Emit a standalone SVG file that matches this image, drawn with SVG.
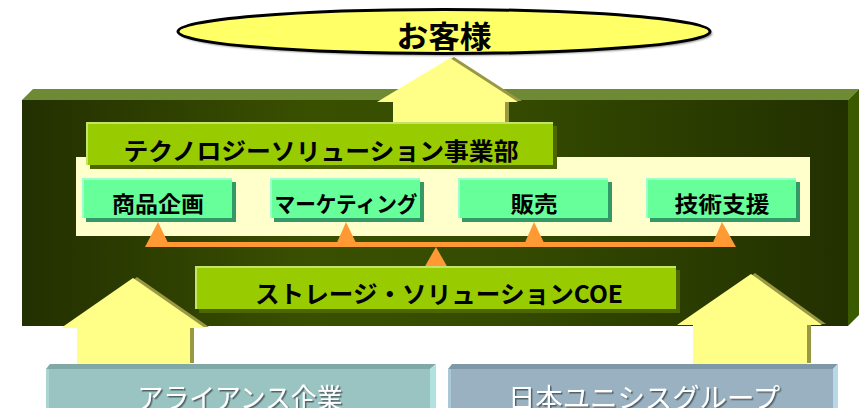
<svg xmlns="http://www.w3.org/2000/svg" width="859" height="408" viewBox="0 0 859 408">
<defs>
<linearGradient id="front" x1="0" y1="0" x2="1" y2="0">
<stop offset="0" stop-color="#233000"/>
<stop offset="0.35" stop-color="#3a5000"/>
<stop offset="0.6" stop-color="#344a00"/>
<stop offset="1" stop-color="#223000"/>
</linearGradient>
<filter id="blur" x="-5%" y="-20%" width="110%" height="140%"><feGaussianBlur stdDeviation="1.2"/></filter>
<filter id="tshadow" x="-5%" y="-20%" width="110%" height="140%"><feDropShadow dx="1.5" dy="1.5" stdDeviation="0.6" flood-color="#4a5a60" flood-opacity="0.9"/></filter>
</defs>
<style>
.jp{font-family:"Noto Sans CJK JP","Noto Sans",sans-serif;font-weight:bold;fill:#000;text-anchor:middle}
.wt{font-family:"Noto Sans CJK JP","Noto Sans",sans-serif;fill:#fff;text-anchor:middle;filter:url(#tshadow)}
.arrow{fill:#ffff88}
.ashadow{fill:#999944}
.gbody{fill:#66ff99}
.ghi{fill:#99ffcc}
.gsh{fill:#339966}
.lbody{fill:#99cc00}
.lhi{fill:#c4e36a}
.lsh{fill:#4d6600}
.orange{fill:#ff9933}
</style>
<rect width="859" height="408" fill="#fff"/>

<g id="customer">
<ellipse cx="446" cy="33.5" rx="266" ry="22" fill="#777" filter="url(#blur)"/>
<ellipse cx="444" cy="31.5" rx="266" ry="22" fill="#ffff66" stroke="#000" stroke-width="3"/>
<text class="jp" x="444" y="47" font-size="30" textLength="95" lengthAdjust="spacingAndGlyphs">お客様</text>
</g>

<g id="org-box">
<polygon points="22,100 33,89 859,89 848,100" fill="#6e8a35"/>
<polygon points="848,100 859,89 859,315 848,326" fill="#3b5a00"/>
<rect x="22" y="100" width="826" height="226" fill="url(#front)"/>
</g>

<g id="arrow-top">
<polygon class="ashadow" points="454,57 522,101 509,101 509,123 397,123 397,101 381,101"/>
<polygon class="arrow" points="450,58 518,102 505,102 505,124 393,124 393,102 377,102"/>
</g>

<g id="arrow-left">
<polygon class="ashadow" points="137,277 209,327 194,327 194,363 81,363 81,327 65,327"/>
<polygon class="arrow" points="133,278 205,328 190,328 190,364 77,364 77,328 61,328"/>
</g>

<g id="arrow-right">
<polygon class="ashadow" points="755,273 826,324 811,324 811,363 697,363 697,324 681,324"/>
<polygon class="arrow" points="751,274 822,325 807,325 807,364 693,364 693,325 677,325"/>
</g>

<g id="inner-panel">
<rect x="76" y="157" width="734" height="79" fill="#ffffcc"/>
</g>

<g id="tech-division">
<rect class="lsh" x="90" y="126" width="467" height="43"/>
<rect class="lhi" x="86" y="122" width="467" height="43"/>
<rect class="lbody" x="88" y="124" width="465" height="41"/>
<text class="jp" x="321" y="160" font-size="24" textLength="395" lengthAdjust="spacingAndGlyphs">テクノロジーソリューション事業部</text>
</g>

<g id="planning">
<rect class="gsh" x="86" y="182" width="150" height="40"/>
<rect class="ghi" x="82" y="178" width="150" height="40"/>
<rect class="gbody" x="84" y="180" width="148" height="38"/>
<text class="jp" x="158" y="212" font-size="22" textLength="92" lengthAdjust="spacingAndGlyphs">商品企画</text>
</g>

<g id="marketing">
<rect class="gsh" x="274" y="182" width="150" height="40"/>
<rect class="ghi" x="270" y="178" width="150" height="40"/>
<rect class="gbody" x="272" y="180" width="148" height="38"/>
<text class="jp" x="346" y="212" font-size="22" textLength="143" lengthAdjust="spacingAndGlyphs">マーケティング</text>
</g>

<g id="sales">
<rect class="gsh" x="462" y="182" width="150" height="40"/>
<rect class="ghi" x="458" y="178" width="150" height="40"/>
<rect class="gbody" x="460" y="180" width="148" height="38"/>
<text class="jp" x="534" y="212" font-size="22" textLength="47" lengthAdjust="spacingAndGlyphs">販売</text>
</g>

<g id="support">
<rect class="gsh" x="650" y="182" width="150" height="40"/>
<rect class="ghi" x="646" y="178" width="150" height="40"/>
<rect class="gbody" x="648" y="180" width="148" height="38"/>
<text class="jp" x="722" y="212" font-size="22" textLength="95" lengthAdjust="spacingAndGlyphs">技術支援</text>
</g>

<g id="connectors">
<rect class="orange" x="156" y="242" width="569" height="5"/>
<polygon class="orange" points="158,222 170,247 145,247"/>
<polygon class="orange" points="346,222 358,247 335,247"/>
<polygon class="orange" points="534,222 546,247 523,247"/>
<polygon class="orange" points="722,222 736,247 711,247"/>
<polygon class="orange" points="436,247 448,268 424,268"/>
</g>

<g id="coe">
<rect class="lsh" x="199" y="270" width="481" height="43"/>
<rect class="lhi" x="195" y="266" width="481" height="43"/>
<rect class="lbody" x="197" y="268" width="479" height="41"/>
<text class="jp" x="439" y="303" font-size="24" textLength="368" lengthAdjust="spacingAndGlyphs">ストレージ・ソリューションCOE</text>
</g>

<g id="alliance">
<polygon points="50,364 436,364 430,369 46,369" fill="#80a8a6"/>
<polygon points="430,369 436,364 436,408 430,408" fill="#b0e3e0"/>
<rect x="46" y="369" width="384" height="39" fill="#99c4c1"/>
<rect x="46" y="369" width="3" height="39" fill="#aad4d2"/>
<text class="wt" x="240" y="408" font-size="27" textLength="205" lengthAdjust="spacingAndGlyphs">アライアンス企業</text>
</g>

<g id="unisys">
<polygon points="452,364 838,364 833,369 448,369" fill="#7f98a8"/>
<polygon points="833,369 838,364 838,408 833,408" fill="#b8d8e8"/>
<rect x="448" y="369" width="385" height="39" fill="#99b1c1"/>
<rect x="448" y="369" width="3" height="39" fill="#aac8d4"/>
<text class="wt" x="644" y="408" font-size="27" textLength="272" lengthAdjust="spacingAndGlyphs">日本ユニシスグループ</text>
</g>
</svg>
